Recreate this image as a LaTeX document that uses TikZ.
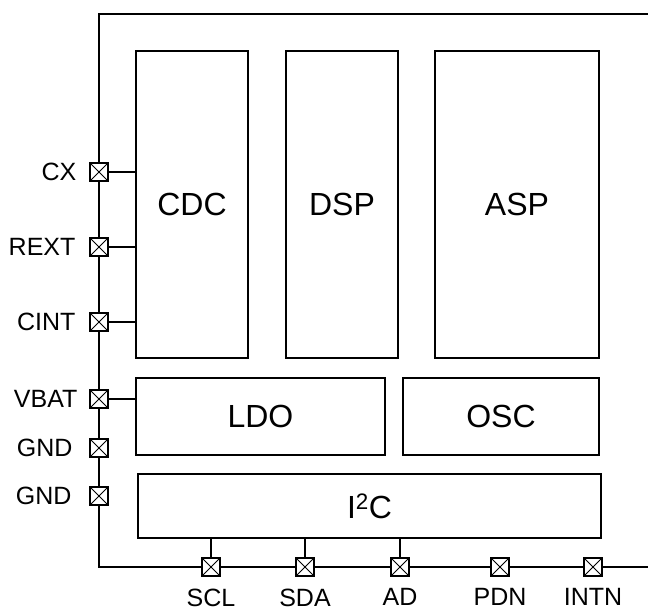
\documentclass[tikz,border=0pt]{standalone}
\usepackage{fontspec}
\setmainfont{Liberation Sans}
\usetikzlibrary{positioning}

\begin{document}
\begin{tikzpicture}[x=1pt,y=-1pt,line width=1.7pt,auto,node distance=13pt]

  \tikzstyle{block}    = [draw, inner sep=0pt, font=\fontsize{32}{38}\selectfont]
  \tikzstyle{padbox}   = [draw, fill=white, line width=1.5pt, minimum size=18pt, inner sep=0pt,
                          path picture={\draw[line width=1pt]
                            (path picture bounding box.north west) -- (path picture bounding box.south east)
                            (path picture bounding box.north east) -- (path picture bounding box.south west);}]
  \tikzstyle{padlabel} = [inner sep=0pt, font=\fontsize{25}{30}\selectfont]

  \clip (0,0) rectangle (648,610);
  % chip outline, runs past the right edge
  \draw (99,14) rectangle (680,567);

  % blocks
  \node[block, minimum width=112pt, minimum height=307pt] (CDC) at (192,204.5)   {CDC};
  \node[block, minimum width=112pt, minimum height=307pt] (DSP) at (342,204.5)   {DSP};
  \node[block, minimum width=164pt, minimum height=307pt] (ASP) at (517,204.5)   {ASP};
  \node[block, minimum width=249pt, minimum height=77pt]  (LDO) at (260.5,416.5) {LDO};
  \node[block, minimum width=196pt, minimum height=77pt]  (OSC) at (501,416.5)   {OSC};
  \node[block, minimum width=463pt, minimum height=64pt]  (I2C) at (369.5,506)   {I\textsuperscript{2}C};

  % pads on the left
  \node[padbox] (cx)   at (99,172) {};
  \node[padbox] (rext) at (99,247) {};
  \node[padbox] (cint) at (99,322) {};
  \node[padbox] (vbat) at (99,399) {};
  \node[padbox] (gndA) at (99,448) {};
  \node[padbox] (gndB) at (99,496) {};

  \node[padlabel] (lcx)   [left=12pt of cx]   {CX};
  \node[padlabel] (lrext) [left=of rext]      {REXT};
  \node[padlabel] (lcint) [left=of cint]      {CINT};
  \node[padlabel] (lvbat) [left=11pt of vbat] {VBAT};
  \node[padlabel] (lgndA) [left=16pt of gndA] {GND};
  \node[padlabel] (lgndB) [left=17pt of gndB] {GND};

  % pads at the bottom
  \node[padbox] (scl)  at (211,567) {};
  \node[padbox] (sda)  at (305,567) {};
  \node[padbox] (ad)   at (400,567) {};
  \node[padbox] (pdn)  at (500,567) {};
  \node[padbox] (intn) at (593,567) {};

  \node[padlabel] (lscl)  [below=11pt of scl]  {SCL};
  \node[padlabel] (lsda)  [below=11pt of sda]  {SDA};
  \node[padlabel] (lad)   [below=11pt of ad]   {AD};
  \node[padlabel] (lpdn)  [below=11pt of pdn]  {PDN};
  \node[padlabel] (lintn) [below=11pt of intn] {INTN};

  \path (cx)   edge (cx -| CDC.west)
        (rext) edge (rext -| CDC.west)
        (cint) edge (cint -| CDC.west)
        (vbat) edge (vbat -| LDO.west)
        (scl)  edge (scl |- I2C.south)
        (sda)  edge (sda |- I2C.south)
        (ad)   edge (ad |- I2C.south);
\end{tikzpicture}
\end{document}
